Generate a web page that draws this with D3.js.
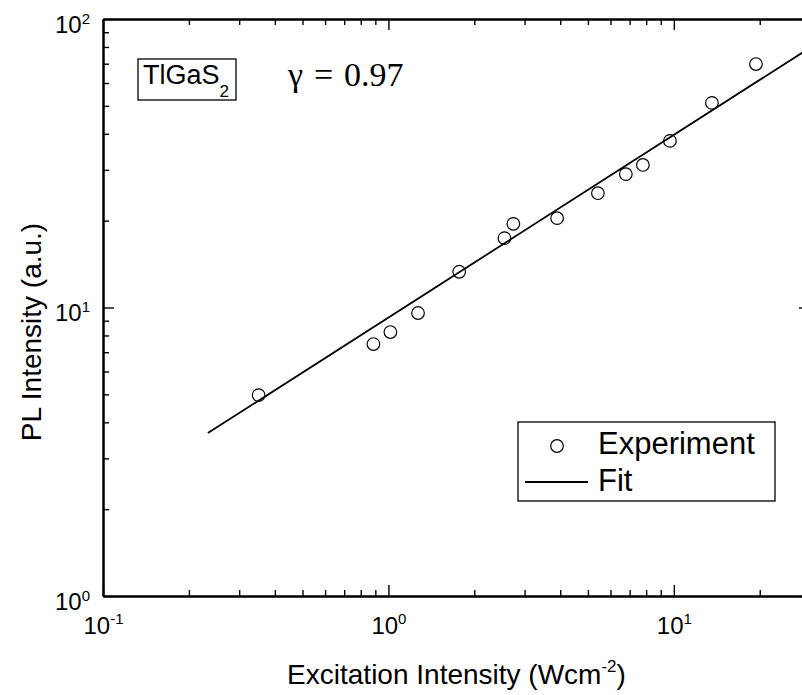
<!DOCTYPE html>
<html>
<head>
<meta charset="utf-8">
<script src="https://cdn.jsdelivr.net/npm/d3@7"></script>
<style>
  body { margin: 0; background: #fff; }
  svg { display: block; }
  svg text { font-family: "Liberation Sans", Arial, sans-serif; }
</style>
</head>
<body>
<div id="chart"></div>
<script>
// measured excitation intensity (W cm^-2) and PL intensity (a.u.)
const excitation = [0.351, 0.886, 1.016, 1.27, 1.77, 2.55, 2.74, 3.90, 5.42, 6.79, 7.79, 9.69, 13.6, 19.4];
const plIntensity = [4.97, 7.47, 8.22, 9.57, 13.3, 17.4, 19.5, 20.4, 24.9, 29.0, 31.2, 37.8, 51.2, 69.8];

// fitted line, end points
const fitX = [0.233, 30];
const fitY = [3.67, 79.5];

const xDomain = [0.1, 30];
const yDomain = [1, 100];
const xMajor = [0.1, 1, 10];
const yMajor = [1, 10, 100];

const legendItems = ['Experiment', 'Fit'];

const margin = { top: 19, right: -8, bottom: 99, left: 103 };
const W = 802, H = 695;
const width = W - margin.left - margin.right;
const height = H - margin.top - margin.bottom;

const x = d3.scaleLog().domain(xDomain).range([0, width]);
const y = d3.scaleLog().domain(yDomain).range([height, 0]);

const svg = d3.select('#chart')
  .append('svg')
  .attr('width', W)
  .attr('height', H);

const g = svg.append('g')
  .attr('transform', `translate(${margin.left},${margin.top})`);

g.append('clipPath').attr('id', 'clip')
  .append('rect').attr('width', width).attr('height', height);

const exp = (v) => Math.round(Math.log10(v));
const xMinor = x.ticks().filter((v) => !xMajor.includes(v));
const yMinor = y.ticks().filter((v) => !yMajor.includes(v));

// ticks point inward on all four sides
function drawAxis(axisFn, scale, major, minor, transform) {
  const major_ = g.append('g').attr('transform', transform)
    .call(axisFn(scale).tickValues(major).tickSizeInner(-11).tickSizeOuter(0).tickFormat(''));
  const minor_ = g.append('g').attr('transform', transform)
    .call(axisFn(scale).tickValues(minor).tickSizeInner(-6).tickSizeOuter(0).tickFormat(''));
  [major_, minor_].forEach((a) => {
    a.select('.domain').attr('stroke-width', 2);
    a.selectAll('.tick line').attr('stroke-width', 1.4);
  });
  return major_;
}

const bottomAx = drawAxis(d3.axisBottom, x, xMajor, xMinor, `translate(0,${height})`);
drawAxis(d3.axisTop, x, xMajor, xMinor, 'translate(0,0)');
const leftAx = drawAxis(d3.axisLeft, y, yMajor, yMinor, 'translate(0,0)');
drawAxis(d3.axisRight, y, yMajor, yMinor, `translate(${width},0)`);

// tick labels as 10 with a superscript exponent
bottomAx.selectAll('.tick').each(function (d) {
  const t = d3.select(this).append('text')
    .attr('y', 38).attr('fill', '#000')
    .attr('text-anchor', 'middle')
    .style('font-size', '24px');
  t.append('tspan').text('10');
  t.append('tspan').attr('dy', -10).style('font-size', '15px').text(exp(d));
});
leftAx.selectAll('.tick').each(function (d) {
  const t = d3.select(this).append('text')
    .attr('x', -13).attr('y', 13).attr('fill', '#000')
    .attr('text-anchor', 'end')
    .style('font-size', '24px');
  t.append('tspan').text('10');
  t.append('tspan').attr('dy', -9).style('font-size', '15px').text(exp(d));
});

// fit line
const line = d3.line().x((d) => x(d[0])).y((d) => y(d[1]));
g.append('path')
  .datum(d3.zip(fitX, fitY))
  .attr('clip-path', 'url(#clip)')
  .attr('fill', 'none')
  .attr('stroke', '#000')
  .attr('stroke-width', 1.8)
  .attr('d', line);

// data points
g.append('g')
  .selectAll('circle')
  .data(d3.zip(excitation, plIntensity))
  .join('circle')
  .attr('cx', (d) => x(d[0]))
  .attr('cy', (d) => y(d[1]))
  .attr('r', 6.3)
  .attr('fill', 'none')
  .attr('stroke', '#000')
  .attr('stroke-width', 1.2);

// axis titles
const xt = svg.append('text')
  .attr('x', margin.left + width / 2)
  .attr('y', 684)
  .attr('text-anchor', 'middle')
  .style('font-size', '28px');
xt.append('tspan').text('Excitation Intensity (Wcm');
xt.append('tspan').attr('dy', -12).style('font-size', '17px').text('-2');
xt.append('tspan').attr('dy', 12).text(')');

svg.append('text')
  .attr('transform', 'translate(41,332) rotate(-90)')
  .attr('text-anchor', 'middle')
  .style('font-size', '28px')
  .text('PL Intensity (a.u.)');

// sample label box
svg.append('rect')
  .attr('x', 138).attr('y', 59).attr('width', 98).attr('height', 41)
  .attr('fill', 'none').attr('stroke', '#000').attr('stroke-width', 1.3);
const sl = svg.append('text')
  .attr('x', 143).attr('y', 84)
  .style('font-size', '27px');
sl.append('tspan').text('TlGaS');
sl.append('tspan').attr('dy', 13).style('font-size', '17px').text('2');

const gam = svg.append('text')
  .attr('y', 86)
  .style('font-family', '"Liberation Serif", "Times New Roman", serif')
  .style('font-size', '34px');
gam.append('tspan').attr('x', 288).text('\u03B3');
gam.append('tspan').attr('x', 314).text('=');
gam.append('tspan').attr('x', 344).text('0.97');

// legend
const lg = svg.append('g').attr('transform', 'translate(518,422)');
lg.append('rect')
  .attr('width', 257).attr('height', 79)
  .attr('fill', '#fff').attr('stroke', '#000').attr('stroke-width', 1.3);
lg.append('circle')
  .attr('cx', 39).attr('cy', 24).attr('r', 6.3)
  .attr('fill', 'none').attr('stroke', '#000').attr('stroke-width', 1.2);
lg.append('line')
  .attr('x1', 7).attr('x2', 70).attr('y1', 60).attr('y2', 60)
  .attr('stroke', '#000').attr('stroke-width', 1.8);
lg.selectAll('text.item')
  .data(legendItems)
  .join('text')
  .attr('class', 'item')
  .attr('x', 80)
  .attr('y', (d, i) => 32 + i * 37)
  .style('font-size', '31px')
  .text((d) => d);
</script>
</body>
</html>
